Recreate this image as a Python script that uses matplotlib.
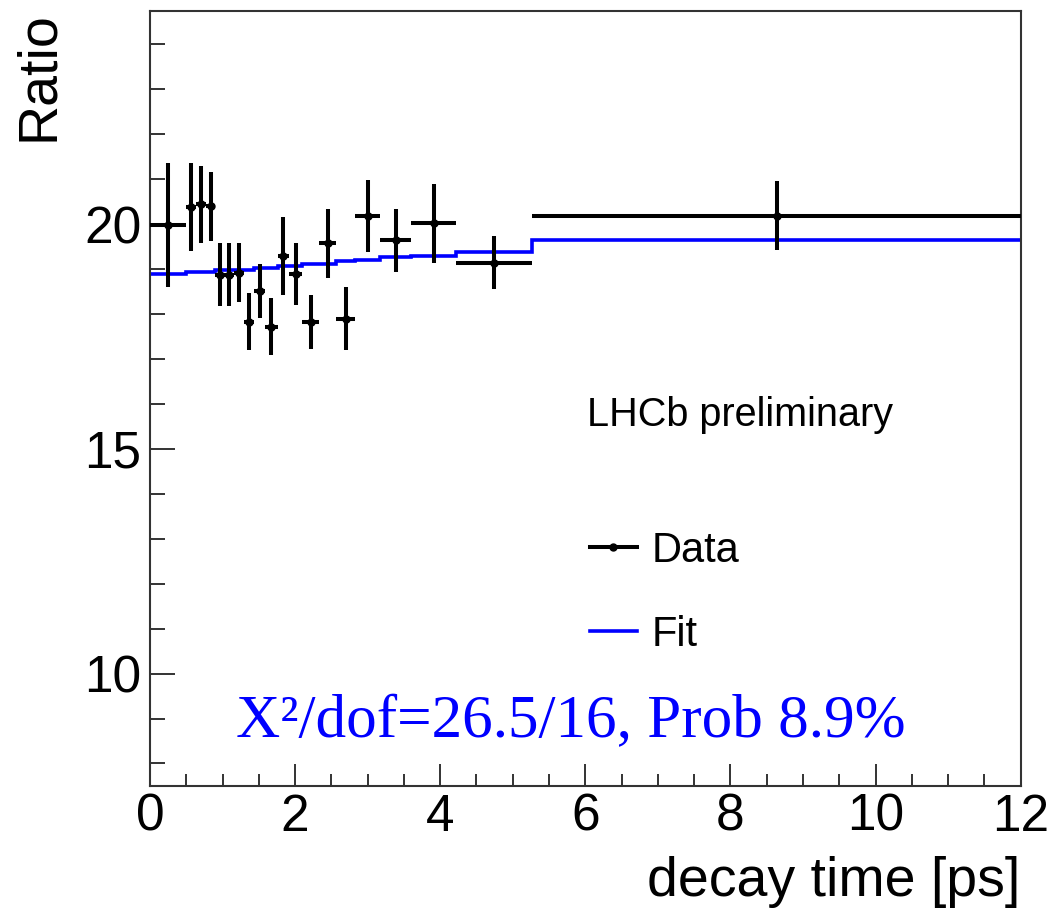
import numpy as np
import matplotlib
matplotlib.use("Agg")
import matplotlib.pyplot as plt
from matplotlib.lines import Line2D
from matplotlib.ticker import MultipleLocator

plt.rcParams["font.family"] = ["Liberation Sans", "DejaVu Sans"]

# decay time bins [ps] and measured ratio per bin
bin_edges = [0.0, 0.5, 0.63, 0.77, 0.9, 1.03, 1.16, 1.29, 1.44, 1.59, 1.76,
             1.92, 2.1, 2.33, 2.57, 2.83, 3.17, 3.6, 4.22, 5.27, 12.0]
ratio = [19.98, 20.38, 20.44, 20.40, 18.87, 18.87, 18.92, 17.83, 18.51, 17.72,
         19.29, 18.89, 17.83, 19.57, 17.90, 20.18, 19.64, 20.02, 19.14, 20.19]
ratio_err = [1.38, 0.98, 0.86, 0.77, 0.70, 0.70, 0.66, 0.64, 0.60, 0.64,
             0.86, 0.68, 0.60, 0.76, 0.70, 0.81, 0.70, 0.88, 0.59, 0.77]

# fit evaluated per bin (steps)
fit_edges = [0.0, 0.5, 0.9, 1.44, 1.76, 2.1, 2.57, 2.83, 3.17, 3.6, 4.22, 5.27, 12.0]
fit_values = [18.88, 18.93, 18.98, 19.03, 19.07, 19.12, 19.17, 19.21, 19.26,
              19.30, 19.37, 19.65]

fit_text = "X²/dof=26.5/16, Prob 8.9%"


def main():
    fig = plt.figure(figsize=(10.56, 9.10), dpi=100)
    ax = fig.add_axes([0.142, 0.1363, 0.8246, 0.852])

    edges = np.array(bin_edges)
    centers = (edges[:-1] + edges[1:]) / 2
    half = np.diff(edges) / 2

    ax.stairs(fit_values, fit_edges, baseline=None, color="blue", lw=2.6, zorder=2)
    ax.errorbar(centers, ratio, xerr=half, yerr=ratio_err, fmt="o", color="black",
                ms=5, elinewidth=2.9, capsize=0, zorder=3)

    ax.set_xlim(0, 12)
    ax.set_ylim(7.5, 24.75)
    ax.xaxis.set_major_locator(MultipleLocator(2))
    ax.xaxis.set_minor_locator(MultipleLocator(0.5))
    ax.yaxis.set_major_locator(MultipleLocator(5))
    ax.yaxis.set_minor_locator(MultipleLocator(1))

    ax.tick_params(which="both", direction="in", top=False, right=False, color="#333333")
    ax.tick_params(axis="x", which="major", length=16, width=1.4, labelsize=37, pad=5)
    ax.tick_params(axis="x", which="minor", length=9, width=1.4)
    ax.tick_params(axis="y", which="major", length=18, width=1.4, labelsize=37, pad=6)
    ax.tick_params(axis="y", which="minor", length=10.5, width=1.4)
    for s in ax.spines.values():
        s.set_color("#333333")
        s.set_linewidth(1.5)

    ax.set_xlabel("decay time [ps]", fontsize=40, loc="right")
    ax.xaxis.set_label_coords(1.0, -0.09)
    ax.set_ylabel("Ratio", fontsize=40, loc="top")
    ax.yaxis.set_label_coords(-0.098, 1.0)

    ax.text(0.502, 0.4785, "LHCb preliminary", fontsize=28.5, va="center",
            transform=ax.transAxes)
    ax.text(0.483, 0.063, fit_text, fontsize=44, color="blue", ha="center",
            va="baseline", family=["Liberation Serif", "DejaVu Serif"],
            transform=ax.transAxes)

    handles = [Line2D([], [], color="black", lw=2.9, marker="o", ms=5),
               Line2D([], [], color="blue", lw=2.6)]
    ax.legend(handles, ["Data", "Fit"], loc="upper left", bbox_to_anchor=(0.505, 0.329),
              frameon=False, fontsize=30, handlelength=1.13, handletextpad=0.35,
              labelspacing=1.05, borderpad=0, borderaxespad=0)

    fig.savefig("out.png", dpi=100)


if __name__ == "__main__":
    main()
